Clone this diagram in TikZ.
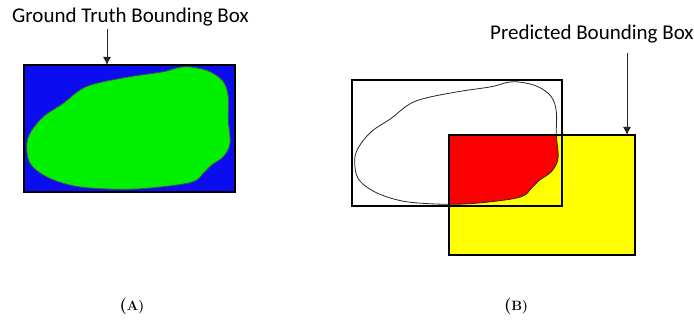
\documentclass[tikz,border=0pt]{standalone}
\usepackage{fontspec}
\newfontfamily\labelfont{Carlito}
\usetikzlibrary{arrows.meta}

\definecolor{boxblue}{RGB}{12,12,240}
\definecolor{blobgreen}{RGB}{0,240,0}
\definecolor{hitred}{RGB}{250,0,0}
\definecolor{predyellow}{RGB}{255,255,0}

% outline of the object, traced inside the ground-truth box
\newcommand\blobpath{plot[smooth cycle, tension=0.6] coordinates {
  (180,67.3) (163.3,71.7) (130,76.7) (96.7,83.3) (80,90) (63.3,103.3)
  (43.3,116.7) (30,133.3) (26.7,146.7) (30,163.3) (43.3,175) (63.3,183.3)
  (86.7,187.7) (126.7,189.3) (163.3,186.7) (193.3,181.7) (203.3,173.3)
  (211.7,165) (223.3,156.7) (230,143.3) (228.3,120) (228.3,96.7)
  (223.3,81.7) (210,71.7) (193.3,67.3)}}

% sub-caption letter: bold parentheses round a smaller bold capital
\newcommand\subcap[1]{(\fontsize{13.5}{15}\selectfont #1)}

\tikzset{
  bbox/.style={draw=black, line width=2pt, inner sep=0pt, outer sep=0pt},
  caption/.style={font=\labelfont\fontsize{21}{24}\selectfont, inner sep=0pt, anchor=base west},
  sublabel/.style={font=\fontsize{16.5}{19}\selectfont\bfseries, inner sep=0pt, anchor=base},
  pointer/.style={-{Latex[length=8pt,width=8pt]}, line width=0.9pt, draw=black!85},
}

\begin{document}
\begin{tikzpicture}[x=1pt, y=-1pt]
\useasboundingbox (0,0) rectangle (694,320);

% ---------- (A) ground truth ----------
\node[bbox, fill=boxblue, minimum width=211pt, minimum height=127pt] (gt) at (129.5,128.5) {};
\fill[blobgreen, draw=black!70, line width=0.8pt] \blobpath;
\draw[line width=2pt] (gt.north west) rectangle (gt.south east);

\node[caption] (gtlabel) at (12,23) {Ground Truth Bounding Box};
\coordinate (gttop) at (107,29);
\draw[pointer] (gttop) -- (gttop |- gt.north);

% ---------- (B) prediction ----------
\node[bbox, fill=predyellow, minimum width=186pt, minimum height=120pt] (pred) at (542,195) {};
\begin{scope}
  \clip (pred.north west) rectangle (pred.south east);
  \fill[hitred, shift={(328,15)}] \blobpath;
\end{scope}
\node[bbox, minimum width=210pt, minimum height=126pt] (gtb) at (457,143) {};
\draw[black!85, line width=0.8pt, shift={(328,15)}] \blobpath;
\draw[line width=2pt] (pred.north west) rectangle (pred.south east);

\node[caption] (predlabel) at (490,40) {Predicted Bounding Box};
\coordinate (predtop) at (627,53);
\draw[pointer] (predtop) -- (predtop |- pred.north);

% ---------- sub-captions ----------
\node[sublabel] (capa) at (132,311) {\subcap{A}};
\node[sublabel] (capb) at (516,311) {\subcap{B}};
\end{tikzpicture}
\end{document}
